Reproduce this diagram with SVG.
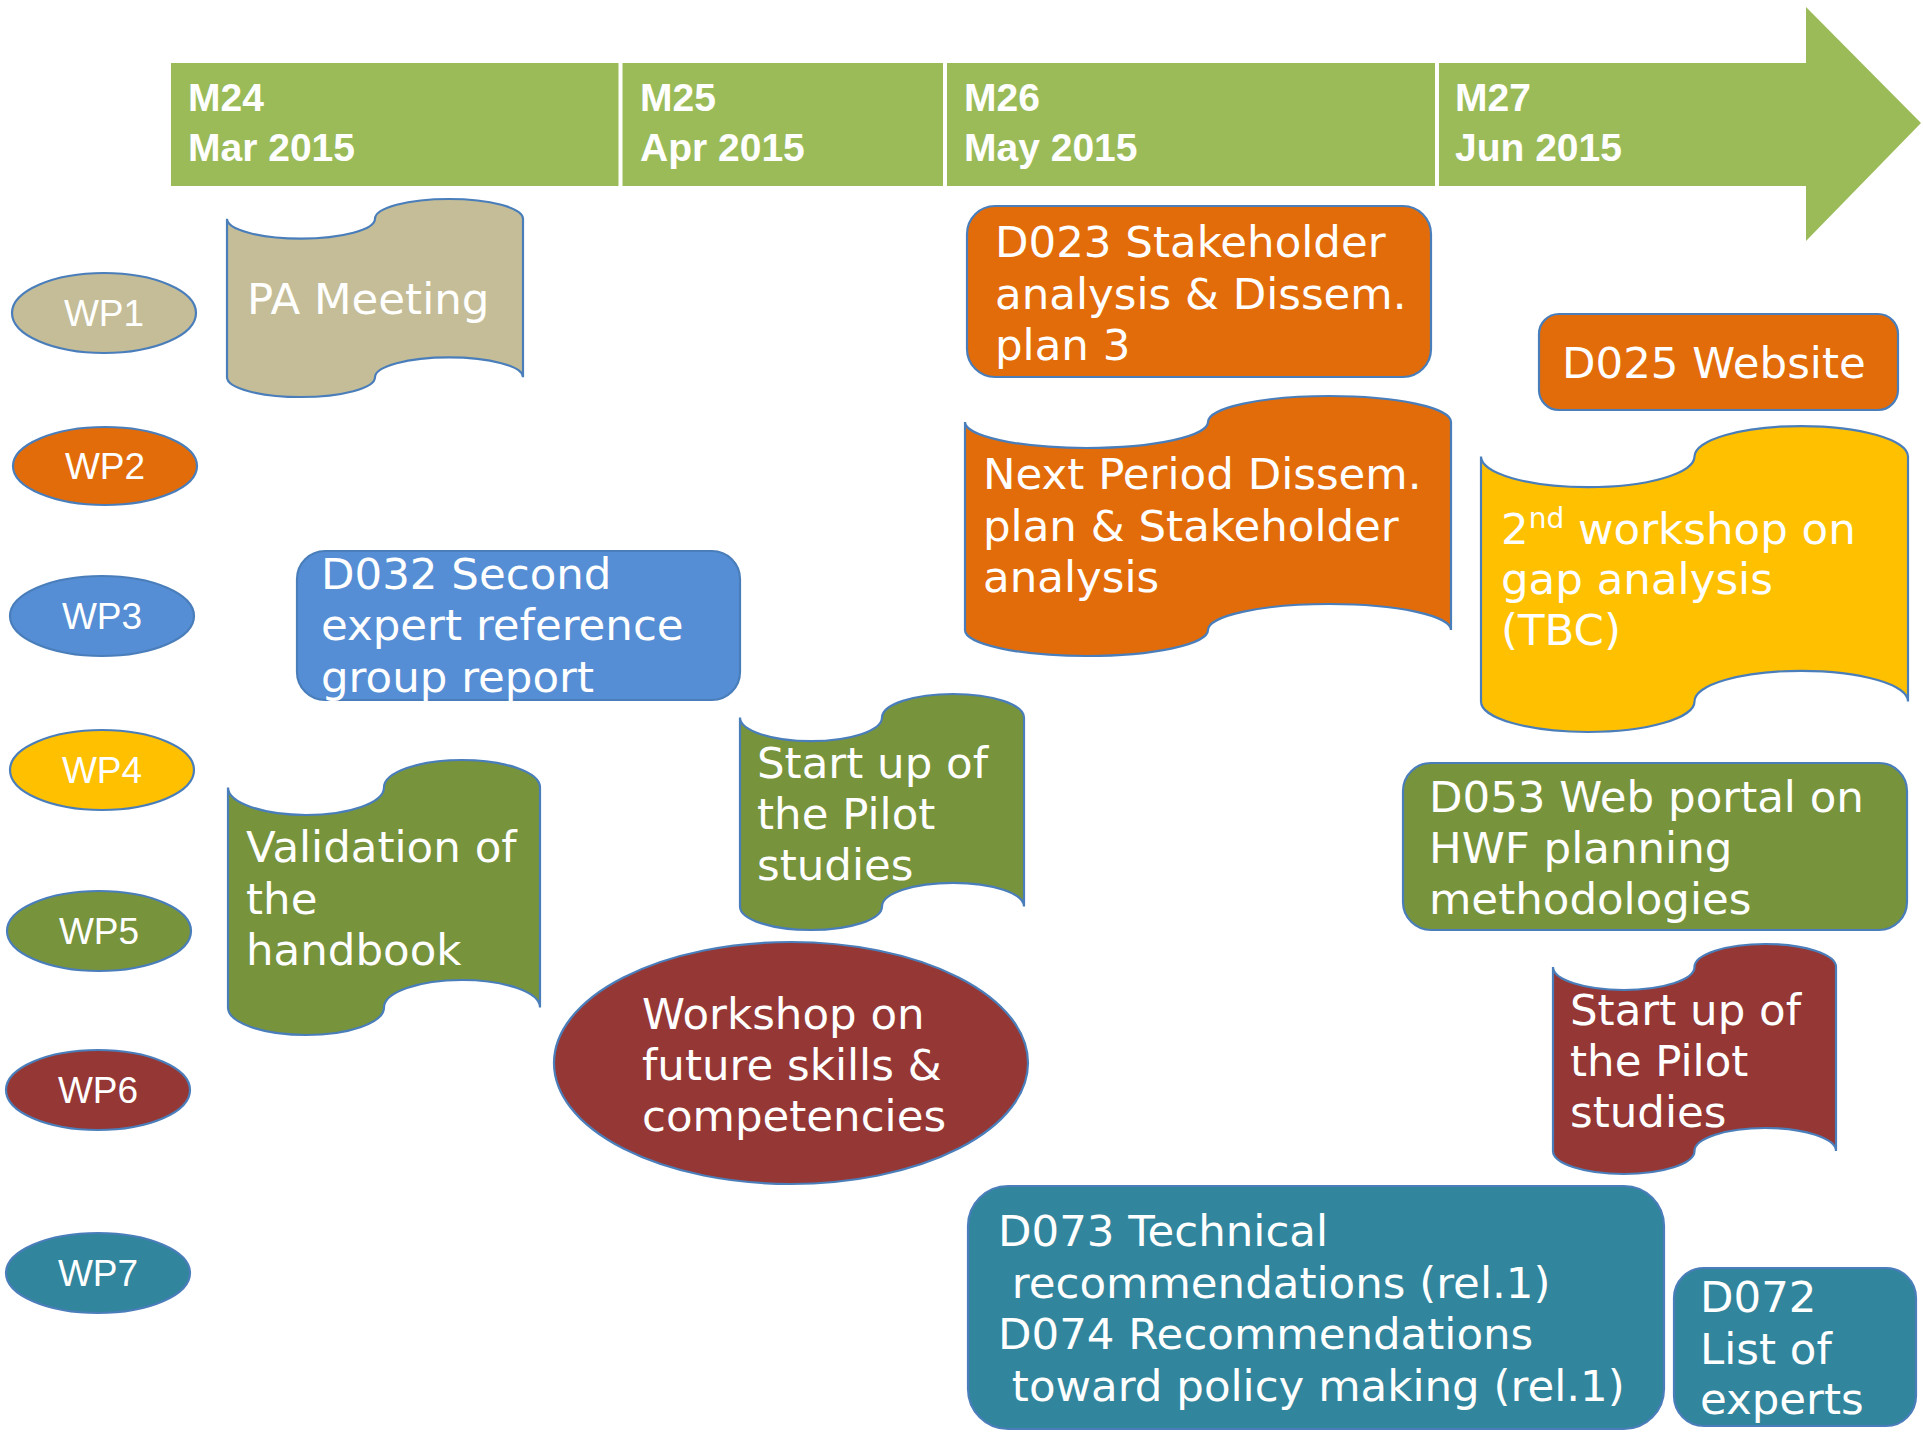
<svg xmlns="http://www.w3.org/2000/svg" width="1923" height="1432" viewBox="0 0 1923 1432">
<style>
.hdr{font-family:"Liberation Sans",Arial,sans-serif;font-weight:bold;font-size:39px;fill:#fff}
.wp{font-family:"Liberation Sans",Arial,sans-serif;font-size:37px;fill:#fff;text-anchor:middle}
.t{font-family:"DejaVu Sans",Verdana,sans-serif;font-size:43.5px;fill:#fff}
.sh{stroke:#4a7ebb;stroke-width:2.2}
.tan{fill:#c4bd97}.org{fill:#e36c0a}.blu{fill:#558ed5}.yel{fill:#ffc000}.grn{fill:#77933c}.red{fill:#953735}.teal{fill:#31859c}
</style>
<rect width="1923" height="1432" fill="#fff"/>
<g id="timeline">
<polygon points="171,63 1806,63 1806,7 1921,123 1806,241 1806,186 171,186" fill="#9bbb59"/>
<g stroke="#fff" stroke-width="4">
<line x1="620.5" y1="63" x2="620.5" y2="186"/>
<line x1="945" y1="63" x2="945" y2="186"/>
<line x1="1437" y1="63" x2="1437" y2="186"/>
</g>
<text class="hdr" x="188" y="111">M24</text><text class="hdr" x="188" y="161">Mar 2015</text>
<text class="hdr" x="640" y="111">M25</text><text class="hdr" x="640" y="161">Apr 2015</text>
<text class="hdr" x="964" y="111">M26</text><text class="hdr" x="964" y="161">May 2015</text>
<text class="hdr" x="1455" y="111">M27</text><text class="hdr" x="1455" y="161">Jun 2015</text>
</g>
<g id="wp1"><ellipse class="sh tan" cx="104" cy="313" rx="92" ry="40"/><text class="wp" x="104" y="326">WP1</text></g>
<g id="wp2"><ellipse class="sh org" cx="105" cy="466" rx="92" ry="39"/><text class="wp" x="105" y="479">WP2</text></g>
<g id="wp3"><ellipse class="sh blu" cx="102" cy="616" rx="92" ry="40"/><text class="wp" x="102" y="629">WP3</text></g>
<g id="wp4"><ellipse class="sh yel" cx="102" cy="770" rx="92" ry="40"/><text class="wp" x="102" y="783">WP4</text></g>
<g id="wp5"><ellipse class="sh grn" cx="99" cy="931" rx="92" ry="40"/><text class="wp" x="99" y="944">WP5</text></g>
<g id="wp6"><ellipse class="sh red" cx="98" cy="1090" rx="92" ry="40"/><text class="wp" x="98" y="1103">WP6</text></g>
<g id="wp7"><ellipse class="sh teal" cx="98" cy="1273" rx="92" ry="40"/><text class="wp" x="98" y="1286">WP7</text></g>
<g id="pa-meeting">
<path class="sh tan" d="M227,218.8 A74,19.8 0 0 0 375,218.8 A74,19.8 0 0 1 523,218.8 L523,377.2 A74,19.8 0 0 0 375,377.2 A74,19.8 0 0 1 227,377.2 Z"/>
<text class="t" x="247" y="314">PA Meeting</text>
</g>
<g id="d023">
<rect class="sh org" x="967" y="206" width="464" height="171" rx="28"/>
<text class="t" x="995" y="257">D023 Stakeholder</text>
<text class="t" x="995" y="309">analysis &amp; Dissem.</text>
<text class="t" x="995" y="360">plan 3</text>
</g>
<g id="d025">
<rect class="sh org" x="1539" y="314" width="359" height="96" rx="20"/>
<text class="t" x="1562" y="378">D025 Website</text>
</g>
<g id="next-period">
<path class="sh org" d="M965,422 A121.5,26 0 0 0 1208,422 A121.5,26 0 0 1 1451,422 L1451,630 A121.5,26 0 0 0 1208,630 A121.5,26 0 0 1 965,630 Z"/>
<text class="t" x="983" y="489">Next Period Dissem.</text>
<text class="t" x="983" y="541">plan &amp; Stakeholder</text>
<text class="t" x="983" y="592">analysis</text>
</g>
<g id="workshop2">
<path class="sh yel" d="M1481,456.6 A106.75,30.6 0 0 0 1694.5,456.6 A106.75,30.6 0 0 1 1908,456.6 L1908,701.4 A106.75,30.6 0 0 0 1694.5,701.4 A106.75,30.6 0 0 1 1481,701.4 Z"/>
<text class="t" x="1501" y="544">2<tspan font-size="28" dy="-16">nd</tspan><tspan dy="16"> workshop on</tspan></text>
<text class="t" x="1501" y="594">gap analysis</text>
<text class="t" x="1501" y="645">(TBC)</text>
</g>
<g id="d032">
<rect class="sh blu" x="297" y="551" width="443" height="149" rx="28"/>
<text class="t" x="321" y="589">D032 Second</text>
<text class="t" x="321" y="640">expert reference</text>
<text class="t" x="321" y="692">group report</text>
</g>
<g id="startup-wp5">
<path class="sh grn" d="M740,717.6 A71,23.6 0 0 0 882,717.6 A71,23.6 0 0 1 1024,717.6 L1024,906.4 A71,23.6 0 0 0 882,906.4 A71,23.6 0 0 1 740,906.4 Z"/>
<text class="t" x="757" y="778">Start up of</text>
<text class="t" x="757" y="829">the Pilot</text>
<text class="t" x="757" y="880">studies</text>
</g>
<g id="validation">
<path class="sh grn" d="M228,787.5 A78,27.5 0 0 0 384,787.5 A78,27.5 0 0 1 540,787.5 L540,1007.5 A78,27.5 0 0 0 384,1007.5 A78,27.5 0 0 1 228,1007.5 Z"/>
<text class="t" x="246" y="862">Validation of</text>
<text class="t" x="246" y="914">the</text>
<text class="t" x="246" y="965">handbook</text>
</g>
<g id="d053">
<rect class="sh grn" x="1403" y="763" width="504" height="167" rx="28"/>
<text class="t" x="1429" y="812">D053 Web portal on</text>
<text class="t" x="1429" y="863">HWF planning</text>
<text class="t" x="1429" y="914">methodologies</text>
</g>
<g id="workshop-skills">
<ellipse class="sh red" cx="791" cy="1063" rx="237" ry="121"/>
<text class="t" x="642" y="1029">Workshop on</text>
<text class="t" x="642" y="1080">future skills &amp;</text>
<text class="t" x="642" y="1131">competencies</text>
</g>
<g id="startup-wp6">
<path class="sh red" d="M1553,967 A70.75,23 0 0 0 1694.5,967 A70.75,23 0 0 1 1836,967 L1836,1151 A70.75,23 0 0 0 1694.5,1151 A70.75,23 0 0 1 1553,1151 Z"/>
<text class="t" x="1570" y="1025">Start up of</text>
<text class="t" x="1570" y="1076">the Pilot</text>
<text class="t" x="1570" y="1127">studies</text>
</g>
<g id="d073-d074">
<rect class="sh teal" x="968" y="1186" width="696" height="243" rx="40"/>
<text class="t" x="998" y="1246">D073 Technical</text>
<text class="t" x="998" y="1298" xml:space="preserve"> recommendations (rel.1)</text>
<text class="t" x="998" y="1349">D074 Recommendations</text>
<text class="t" x="998" y="1401" xml:space="preserve"> toward policy making (rel.1)</text>
</g>
<g id="d072">
<rect class="sh teal" x="1674" y="1268" width="242" height="158" rx="30"/>
<text class="t" x="1700" y="1312">D072</text>
<text class="t" x="1700" y="1364">List of</text>
<text class="t" x="1700" y="1414">experts</text>
</g>
<g id="connectors"/>
</svg>
